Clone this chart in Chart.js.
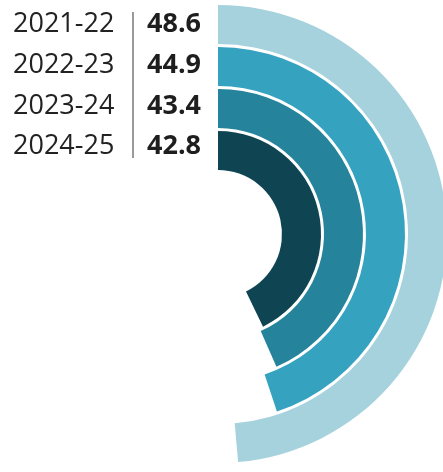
<!DOCTYPE html>
<html>
<head>
<meta charset="utf-8">
<script src="https://cdn.jsdelivr.net/npm/chart.js@4.4.1/dist/chart.umd.min.js"></script>
<style>
  html, body { margin: 0; padding: 0; background: #ffffff; overflow: hidden; }
  #wrap { position: relative; width: 443px; height: 472px; overflow: hidden; }
  #rings { position: absolute; left: -11px; top: 5px; width: 458px; height: 458px; }
  #legend { position: absolute; left: 0; top: 0; width: 215px; height: 180px; z-index: 2;
            font-family: "Open Sans", sans-serif; color: #222; }
  .row { position: absolute; left: 0; width: 215px; height: 41px; line-height: 41px; font-size: 27px; white-space: nowrap; }
  .yr { position: absolute; left: 13px; }
  .val { position: absolute; left: 147px; font-weight: 700; color: #1e1e1e; }
  #sep { position: absolute; left: 132px; top: 12px; width: 1.5px; height: 146px; background: #9a9a9a; }
</style>
</head>
<body>
<div id="wrap">
  <canvas id="rings" width="458" height="458"></canvas>
  <div id="legend"><div id="sep"></div></div>
</div>
<script>
// Fiscal years, outermost ring first
const years = ['2021-22', '2022-23', '2023-24', '2024-25'];
const values = [48.6, 44.9, 43.4, 42.8];
const valueLabels = ['48.6', '44.9', '43.4', '42.8'];
const ringColors = ['#a6d2de', '#35a2bf', '#25849c', '#0f4553'];
const fullScale = 100;

// Legend rows: year | value
const legend = document.getElementById('legend');
years.forEach((y, i) => {
  const row = document.createElement('div');
  row.className = 'row';
  row.style.top = (1 + i * 40.8) + 'px';
  const a = document.createElement('span');
  a.className = 'yr';
  a.textContent = y;
  const b = document.createElement('span');
  b.className = 'val';
  b.textContent = valueLabels[i];
  row.appendChild(a);
  row.appendChild(b);
  legend.appendChild(row);
});

// One ring per year, with thin empty rings between them as white gaps
const datasets = [];
values.forEach((v, i) => {
  datasets.push({
    data: [v, fullScale - v],
    backgroundColor: [ringColors[i], 'rgba(0,0,0,0)'],
    borderWidth: 0,
    weight: 39
  });
  if (i < values.length - 1) {
    datasets.push({
      data: [fullScale],
      backgroundColor: ['rgba(0,0,0,0)'],
      borderWidth: 0,
      weight: 3
    });
  }
});

new Chart(document.getElementById('rings'), {
  type: 'doughnut',
  data: { labels: ['value', 'rest'], datasets },
  options: {
    responsive: false,
    animation: false,
    cutout: 64,
    rotation: 0,
    circumference: 360,
    layout: { padding: 0 },
    events: [],
    plugins: { legend: { display: false }, tooltip: { enabled: false } }
  }
});
</script>
</body>
</html>
